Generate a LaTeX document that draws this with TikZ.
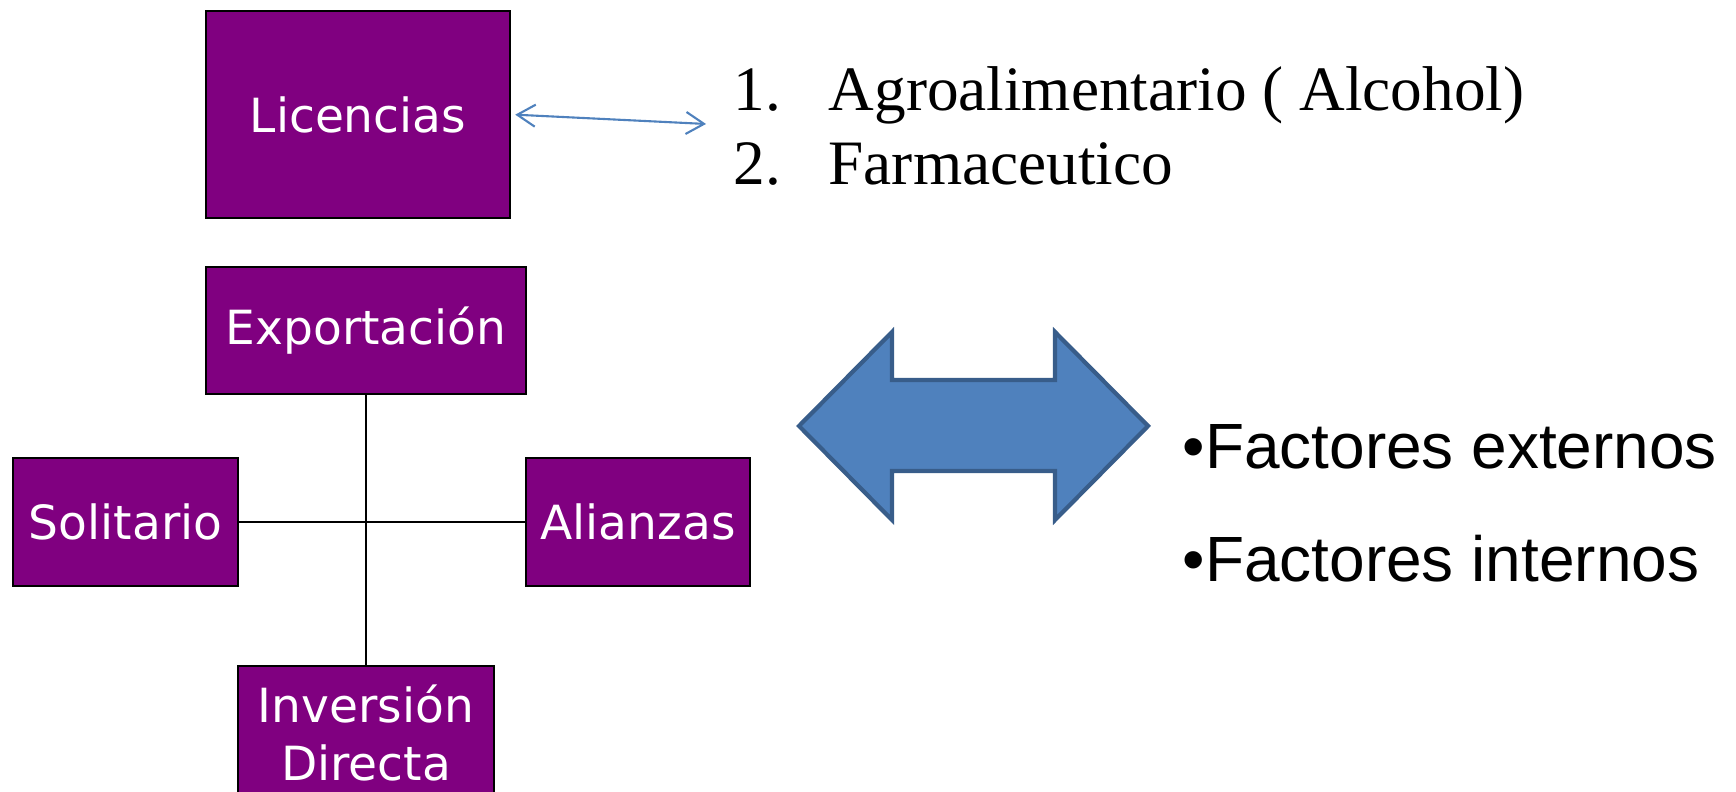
\documentclass[tikz,border=0pt]{standalone}
\usepackage{fontspec}
\setmainfont{Liberation Serif}
\newfontfamily\boxfont{DejaVu Sans}
\newfontfamily\listfont{Liberation Sans}
\usepackage{tikz}
\usetikzlibrary{arrows.meta, positioning}
\definecolor{boxpurple}{HTML}{800080}
\definecolor{arrowblue}{HTML}{4F81BD}
\definecolor{arrowedge}{HTML}{385D8A}
\tikzstyle{modo} = [rectangle, draw=black, line width=0.7pt, fill=boxpurple, text=white, inner sep=0pt, align=center, font=\boxfont\fontsize{13.4}{16.5}\selectfont]
\tikzstyle{enlace} = [line width=0.6pt, draw=black]
\tikzstyle{flecha} = [line width=0.6pt, draw=arrowblue, {Straight Barb[length=1.8mm,width=2.2mm]}-{Straight Barb[length=1.8mm,width=2.2mm]}]
\tikzstyle{lista} = [anchor=base west, inner sep=0pt, font=\fontsize{18}{21}\selectfont]
\tikzstyle{factor} = [anchor=base west, inner sep=0pt, font=\listfont\fontsize{18.2}{22}\selectfont]

\begin{document}
\begin{tikzpicture}
            \clip (0,0) rectangle (17.36,7.92);
            \node[modo, minimum width=3.04cm, minimum height=2.07cm] (lic) at (3.58,6.775) {Licencias};
            \node[modo, minimum width=3.20cm, minimum height=1.27cm] (exp) at (3.66,4.615) {Exportación};
            \node[modo, minimum width=2.25cm, minimum height=1.28cm] (sol) at (1.255,2.70) {Solitario};
            \node[modo, minimum width=2.24cm, minimum height=1.28cm] (ali) at (6.38,2.70) {Alianzas};
            \node[modo, minimum width=2.56cm, minimum height=1.34cm] (inv) at (3.66,0.59) {Inversión\\Directa};

            \draw[enlace] (exp.south) -- (inv.north);
            \draw[enlace] (sol.east) -- (ali.west);

            \coordinate (lic-fin) at (7.06,6.68);
            \draw[flecha, shorten <=0.4mm] (lic.east) -- (lic-fin);

            \node[lista] (num-1) at (7.33,6.81) {1.};
            \node[lista] (item-1) at (8.28,6.81) {Agroalimentario ( Alcohol)};
            \node[lista] (num-2) at (7.33,6.07) {2.};
            \node[lista] (item-2) at (8.28,6.07) {Farmaceutico};

            \draw[line width=1.2pt, draw=arrowedge, fill=arrowblue, line join=miter]
                (7.99,3.66) -- (8.92,4.60) -- (8.92,4.12) -- (10.55,4.12) -- (10.55,4.60) -- (11.48,3.66)
                -- (10.55,2.72) -- (10.55,3.21) -- (8.92,3.21) -- (8.92,2.72) -- cycle;

            \node[factor] (fac-ext) at (11.82,3.23) {•Factores externos};
            \node[factor] (fac-int) at (11.82,2.10) {•Factores internos};

        \end{tikzpicture}
\end{document}
